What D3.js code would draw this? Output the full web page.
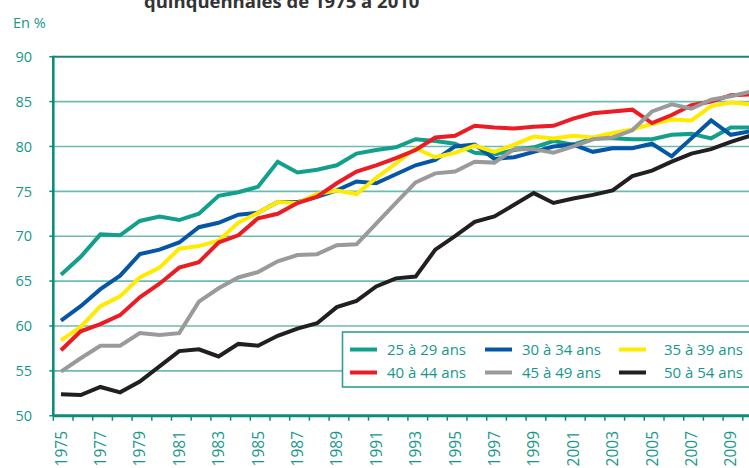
<!DOCTYPE html>
<html>
<head>
<meta charset="utf-8">
<script src="https://cdn.jsdelivr.net/npm/d3@7"></script>
<style>
  body { margin: 0; background: #fff; }
  svg { display: block; font-family: "Open Sans", sans-serif; }
</style>
</head>
<body>
<script>
// années 1975 -> 2010
const years = d3.range(1975, 2011);

const ages = ["25 à 29 ans", "30 à 34 ans", "35 à 39 ans", "40 à 44 ans", "45 à 49 ans", "50 à 54 ans"];
const colors = ["#12a08c", "#0656a6", "#ffeb00", "#ec1c24", "#9a9a9a", "#231f20"];

const age25_29 = [65.7, 67.7, 70.2, 70.1, 71.7, 72.2, 71.8, 72.5, 74.5, 74.9,
    75.5, 78.3, 77.1, 77.4, 77.9, 79.2, 79.6, 79.9, 80.8, 80.6,
    80.3, 79.3, 79.1, 79.6, 79.9, 80.6, 80.2, 80.9, 80.9, 80.8,
    80.8, 81.3, 81.4, 80.9, 82.1, 82.1];
const age30_34 = [60.6, 62.2, 64.1, 65.6, 68.0, 68.5, 69.3, 71.0, 71.5, 72.4,
    72.6, 73.8, 73.8, 74.4, 75.1, 76.1, 75.9, 76.9, 77.9, 78.5,
    80.0, 80.2, 78.6, 78.8, 79.4, 80.0, 80.2, 79.4, 79.8, 79.8,
    80.3, 78.9, 80.9, 82.9, 81.3, 81.7];
const age35_39 = [58.4, 59.9, 62.2, 63.3, 65.4, 66.5, 68.6, 68.9, 69.5, 71.5,
    72.6, 73.8, 73.7, 74.7, 75.1, 74.7, 76.5, 78.1, 79.8, 78.8,
    79.3, 80.1, 79.4, 80.2, 81.1, 80.9, 81.2, 81.0, 81.5, 81.9,
    82.5, 83.0, 82.9, 84.5, 84.9, 84.7];
const age40_44 = [57.3, 59.4, 60.2, 61.2, 63.2, 64.7, 66.5, 67.1, 69.3, 70.1,
    72.0, 72.5, 73.7, 74.4, 75.9, 77.2, 77.9, 78.7, 79.6, 81.0,
    81.2, 82.3, 82.1, 82.0, 82.2, 82.3, 83.1, 83.7, 83.9, 84.1,
    82.6, 83.5, 84.6, 85.0, 85.7, 85.8];
const age45_49 = [54.9, 56.4, 57.8, 57.8, 59.2, 59.0, 59.2, 62.7, 64.2, 65.4,
    66.0, 67.2, 67.9, 68.0, 69.0, 69.1, 71.4, 73.7, 76.0, 77.0,
    77.2, 78.3, 78.2, 79.7, 79.7, 79.3, 80.0, 80.8, 81.0, 81.8,
    83.9, 84.7, 84.2, 85.2, 85.6, 86.1];
const age50_54 = [52.4, 52.3, 53.2, 52.6, 53.8, 55.5, 57.2, 57.4, 56.6, 58.0,
    57.8, 58.9, 59.7, 60.3, 62.1, 62.8, 64.4, 65.3, 65.5, 68.5,
    70.0, 71.6, 72.2, 73.5, 74.8, 73.7, 74.2, 74.6, 75.1, 76.7,
    77.3, 78.3, 79.2, 79.7, 80.5, 81.2];

const series = [age25_29, age30_34, age35_39, age40_44, age45_49, age50_54];
const yTicks = [50, 55, 60, 65, 70, 75, 80, 85, 90];
const yearLabels = years.filter(y => (y - 1975) % 2 === 0 && y < 2010);

const W = 749, H = 468;
const teal = "#16978a";
const step = 19.7;

const x = d3.scaleLinear().domain([1975, 2010]).range([61, 61 + 35 * step]);
const y = d3.scaleLinear().domain([50, 90]).range([415.7, 56.7]);
const axisLeftX = 53.3;

const svg = d3.select("body").append("svg")
    .attr("width", W)
    .attr("height", H);

// titre (coupé en haut)
svg.append("text")
    .attr("x", 144)
    .attr("y", 8)
    .attr("font-size", 18.5)
    .attr("font-weight", "bold")
    .attr("fill", "#333")
    .text("quinquennales de 1975 à 2010");

svg.append("text")
    .attr("x", 13)
    .attr("y", 28)
    .attr("font-size", 14.5)
    .attr("fill", teal)
    .text("En %");

// grille
svg.append("g")
    .selectAll("line")
    .data(yTicks.filter(d => d > 50))
    .join("line")
        .attr("x1", axisLeftX)
        .attr("x2", W)
        .attr("y1", d => y(d))
        .attr("y2", d => y(d))
        .attr("stroke", d => d === 90 ? "#1a8578" : "#6bbbb1")
        .attr("stroke-width", d => d === 90 ? 2 : 1.6);

// axe y
const gy = svg.append("g");
gy.append("line")
    .attr("x1", axisLeftX).attr("x2", axisLeftX)
    .attr("y1", y(90) - 1).attr("y2", y(50))
    .attr("stroke", "#0c8c7c")
    .attr("stroke-width", 2.6);
gy.selectAll(".tk")
    .data(yTicks)
    .join("line")
        .attr("class", "tk")
        .attr("x1", axisLeftX - 4).attr("x2", axisLeftX)
        .attr("y1", d => y(d)).attr("y2", d => y(d))
        .attr("stroke", "#0c8c7c")
        .attr("stroke-width", 1.5);
gy.selectAll("text")
    .data(yTicks)
    .join("text")
        .attr("x", 32)
        .attr("y", d => y(d))
        .attr("dy", "0.36em")
        .attr("text-anchor", "end")
        .attr("font-size", 14.5)
        .attr("fill", teal)
        .text(d => d);

// axe x
const gx = svg.append("g");
gx.append("line")
    .attr("x1", axisLeftX).attr("x2", W)
    .attr("y1", y(50)).attr("y2", y(50))
    .attr("stroke", "#0c8c7c")
    .attr("stroke-width", 3);
gx.selectAll(".tk")
    .data(years)
    .join("line")
        .attr("class", "tk")
        .attr("x1", d => x(d) - 7.7).attr("x2", d => x(d) - 7.7)
        .attr("y1", y(50)).attr("y2", y(50) + 5)
        .attr("stroke", "#0c8c7c")
        .attr("stroke-width", 1.5);
gx.selectAll("text")
    .data(yearLabels)
    .join("text")
        .attr("transform", d => `translate(${x(d)}, 431) rotate(-90)`)
        .attr("dy", "0.36em")
        .attr("text-anchor", "end")
        .attr("font-size", 15.5)
        .attr("fill", teal)
        .text(d => d);

// courbes
const line = d3.line()
    .x((d, i) => x(years[i]))
    .y(d => y(d));

svg.append("g")
    .selectAll("path")
    .data(series)
    .join("path")
        .attr("d", line)
        .attr("fill", "none")
        .attr("stroke", (d, i) => colors[i])
        .attr("stroke-width", 4);

// légende
const lg = svg.append("g");
lg.append("rect")
    .attr("x", 342.5)
    .attr("y", 332)
    .attr("width", 420)
    .attr("height", 55)
    .attr("fill", "#fff")
    .attr("stroke", "#2f9e90")
    .attr("stroke-width", 1.6);

const colX = [350, 485, 619];
const rowY = [349.5, 372.5];
const items = lg.selectAll("g")
    .data(ages)
    .join("g")
        .attr("transform", (d, i) => `translate(${colX[i % 3]}, ${rowY[Math.floor(i / 3)]})`);
items.append("line")
    .attr("x1", 0).attr("x2", 27)
    .attr("stroke", (d, i) => colors[i])
    .attr("stroke-width", 4);
items.append("text")
    .attr("x", (d, i) => i % 3 === 2 ? 45 : 37)
    .attr("dy", "0.36em")
    .attr("font-size", 15)
    .attr("fill", teal)
    .text(d => d);
</script>
</body>
</html>
